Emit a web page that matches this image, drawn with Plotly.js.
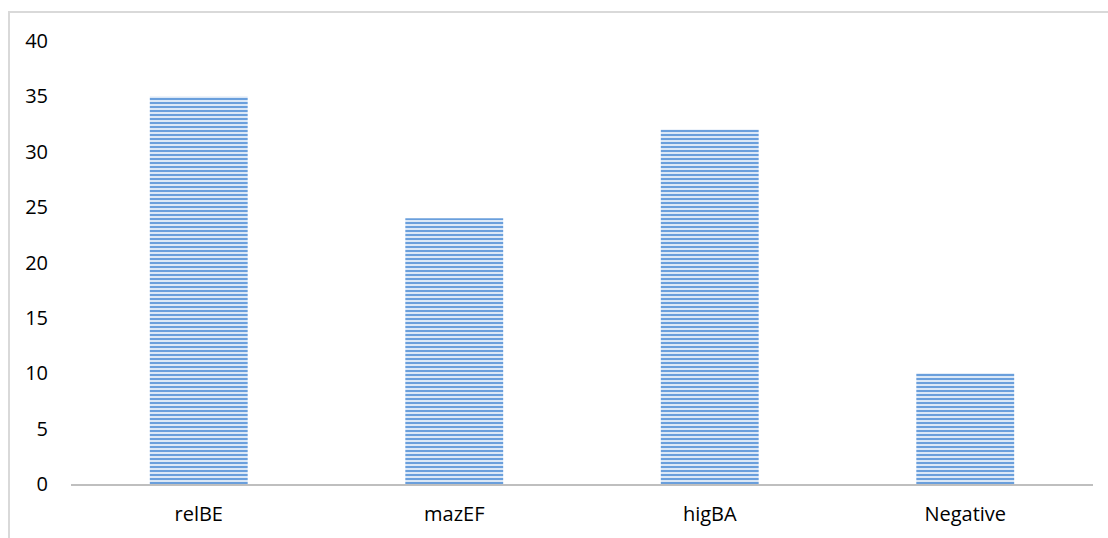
<!DOCTYPE html>
<html><head><meta charset="utf-8">
<script src="https://cdn.plot.ly/plotly-3.0.1.min.js"></script>
<style>
html,body{margin:0;padding:0;background:#fff;}
#frame{position:absolute;left:8px;top:11px;width:1100px;height:527px;border-left:2px solid #d9d9d9;border-top:2px solid #d9d9d9;box-sizing:border-box;pointer-events:none;z-index:5;}
#chart{position:absolute;left:0;top:0;width:1108px;height:538px;}
</style></head>
<body>
<div id="chart"></div>
<div id="frame"></div>
<script>
const categories = ["relBE", "mazEF", "higBA", "Negative"];
const values = [35, 24, 32, 10];
const yTicks = [0, 5, 10, 15, 20, 25, 30, 35, 40];

Plotly.newPlot('chart', [{
  type: 'bar',
  x: categories,
  y: values,
  marker: {
    color: '#dbe8f7',
    line: {width: 0},
    pattern: {shape: '-', fgcolor: '#6a9fdc', bgcolor: '#dbe8f7', size: 4, solidity: 0.5, fillmode: 'replace'}
  },
  hoverinfo: 'none'
}], {
  width: 1108, height: 538,
  margin: {l: 71, r: 15, t: 41, b: 54},
  paper_bgcolor: '#fff', plot_bgcolor: '#fff',
  bargap: 0.617,
  showlegend: false,
  font: {family: 'Open Sans, Liberation Sans, sans-serif', size: 20, color: '#000'},
  xaxis: {showline: true, linecolor: '#bfbfbf', linewidth: 2, ticks: '', showgrid: false, zeroline: false, ticklabelstandoff: 11, tickfont: {size: 20}},
  yaxis: {range: [0, 40], tickvals: yTicks, showgrid: false, zeroline: false, showline: false, ticks: '', ticklabelstandoff: 22, tickfont: {size: 20}}
}, {staticPlot: true, displayModeBar: false});
</script>
</body></html>
